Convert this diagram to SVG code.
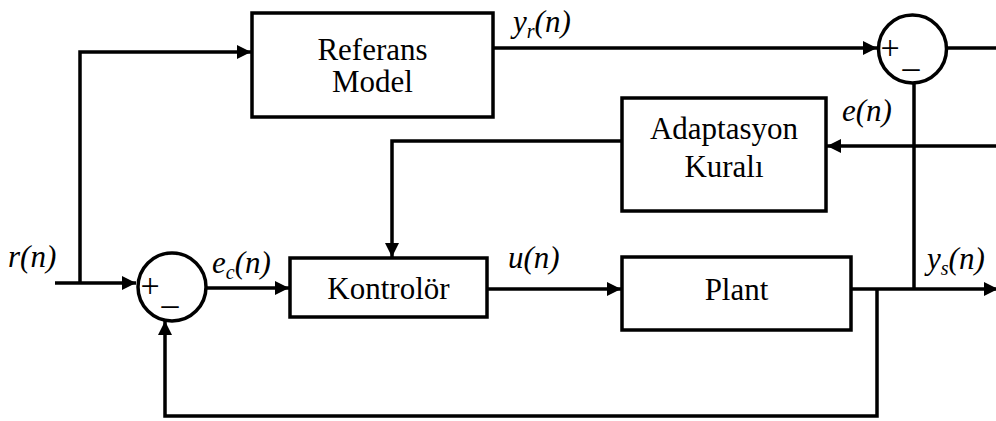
<svg xmlns="http://www.w3.org/2000/svg" width="996" height="421" viewBox="0 0 996 421">
<style>
.box{fill:#fff;stroke:#000;stroke-width:3.5}
.sum{fill:#fff;stroke:#000;stroke-width:3.5}
.ln{fill:none;stroke:#000;stroke-width:3.5}
text{font-family:'Liberation Serif','Times New Roman',serif;fill:#000}
.t{font-size:31px}
.m{font-size:31px;font-style:italic}
.sub{font-size:20px}
.sg{font-size:34px}
</style>
<defs>
<marker id="ah" markerWidth="14" markerHeight="14" viewBox="0 0 14 14" refX="14" refY="7" orient="auto" markerUnits="userSpaceOnUse">
<path d="M0,0 L14,7 L0,14 Z" fill="#000"/>
</marker>
</defs>
<g id="connectors">
<path class="ln" d="M55,283 H136" marker-end="url(#ah)"/>
<path class="ln" d="M80,283 V52 H251" marker-end="url(#ah)"/>
<path class="ln" d="M493,48 H877" marker-end="url(#ah)"/>
<path class="ln" d="M948,48 H996"/>
<path class="ln" d="M914,83 V289"/>
<path class="ln" d="M996,146 H827" marker-end="url(#ah)"/>
<path class="ln" d="M622,141 H392 V257" marker-end="url(#ah)"/>
<path class="ln" d="M207,288 H289" marker-end="url(#ah)"/>
<path class="ln" d="M487,289 H621" marker-end="url(#ah)"/>
<path class="ln" d="M851,289 H998" marker-end="url(#ah)"/>
<path class="ln" d="M877,289 V416 H165 V321" marker-end="url(#ah)"/>
</g>
<g id="referans">
<rect class="box" x="252" y="13" width="241" height="104"/>
<text class="t" x="372.5" y="60" text-anchor="middle">Referans</text>
<text class="t" x="372.5" y="92" text-anchor="middle">Model</text>
</g>
<g id="sum-top">
<circle class="sum" cx="912.5" cy="49" r="34"/>
<text class="sg" x="890" y="59" text-anchor="middle">+</text>
<text class="sg" x="911" y="78" text-anchor="middle">–</text>
</g>
<g id="adaptasyon">
<rect class="box" x="622" y="98" width="204" height="113"/>
<text class="t" x="724" y="139" text-anchor="middle">Adaptasyon</text>
<text class="t" x="724" y="177" text-anchor="middle">Kuralı</text>
</g>
<g id="sum-left">
<circle class="sum" cx="172" cy="287" r="34"/>
<text class="sg" x="150" y="297" text-anchor="middle">+</text>
<text class="sg" x="170" y="315" text-anchor="middle">–</text>
</g>
<g id="kontrolor">
<rect class="box" x="290" y="258" width="197" height="59"/>
<text class="t" x="388.5" y="299" text-anchor="middle">Kontrolör</text>
</g>
<g id="plant">
<rect class="box" x="622" y="257" width="229" height="73"/>
<text class="t" x="736.5" y="300" text-anchor="middle">Plant</text>
</g>
<g id="labels">
<text class="m" x="513" y="32">y<tspan class="sub" dy="6">r</tspan><tspan dy="-6">(n)</tspan></text>
<text class="m" x="842" y="121">e(n)</text>
<text class="m" x="8" y="267">r(n)</text>
<text class="m" x="212" y="273">e<tspan class="sub" dy="6">c</tspan><tspan dy="-6">(n)</tspan></text>
<text class="m" x="508" y="268">u(n)</text>
<text class="m" x="927" y="269">y<tspan class="sub" dy="6">s</tspan><tspan dy="-6">(n)</tspan></text>
</g>
</svg>
